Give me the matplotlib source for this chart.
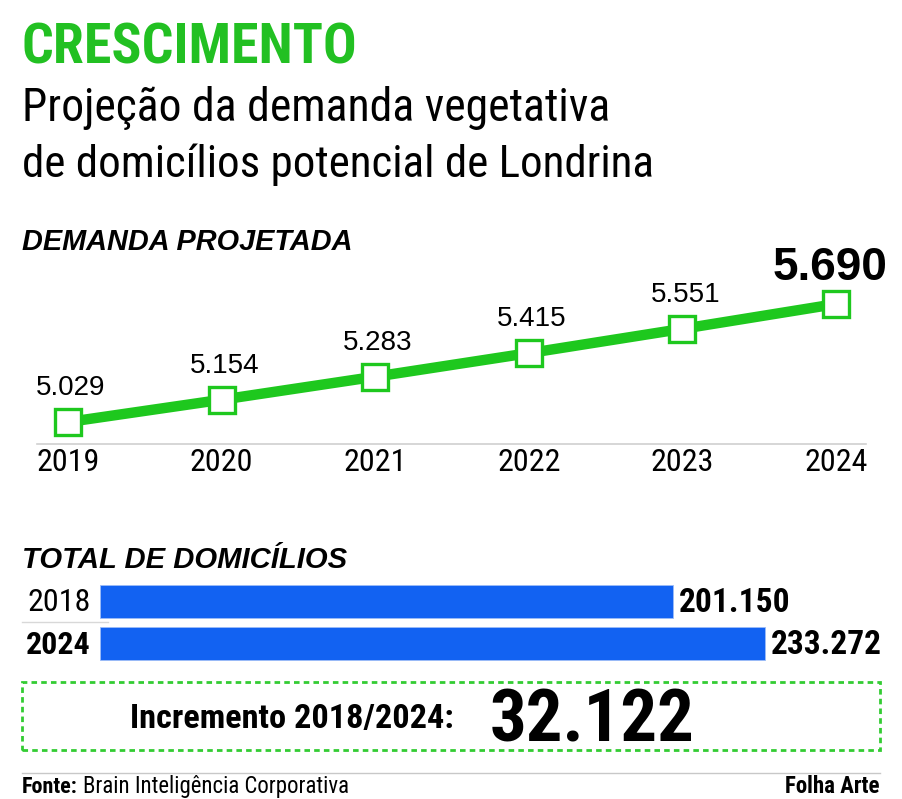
import matplotlib
matplotlib.use("Agg")
import matplotlib.pyplot as plt
from matplotlib import font_manager
from matplotlib.font_manager import FontProperties
from matplotlib.patches import Rectangle
from matplotlib.lines import Line2D

# dados
anos = ["2019", "2020", "2021", "2022", "2023", "2024"]
demanda = [5.029, 5.154, 5.283, 5.415, 5.551, 5.690]
rotulos_demanda = ["5.029", "5.154", "5.283", "5.415", "5.551", "5.690"]

anos_total = ["2018", "2024"]
domicilios = [201150, 233272]
rotulos_dom = ["201.150", "233.272"]
incremento = "32.122"

VERDE = "#1ec81e"
VERDE_TIT = "#22c022"
VERDE_CAIXA = "#33cc33"
AZUL = "#1262f2"
W, H = 903, 799


def peso_num(w):
    if isinstance(w, str):
        return {"bold": 700, "normal": 400, "regular": 400, "book": 400,
                "medium": 500, "semibold": 600, "light": 300}.get(w.lower(), 400)
    return w


def achar_condensada(negrito):
    # procura uma fonte estreita instalada (Narrow / Condensed)
    ordem = ["Liberation Sans Narrow", "Roboto Condensed", "Open Sans Condensed",
             "Noto Sans", "DejaVu Sans", "Open Sans", "Roboto"]
    cands = []
    for f in font_manager.fontManager.ttflist:
        nome = (f.fname + " " + f.name).lower()
        if "narrow" not in nome and "condensed" not in nome:
            continue
        if "semicondensed" in nome.replace(" ", "") or "extracondensed" in nome.replace(" ", ""):
            continue
        if f.style != "normal" or "italic" in nome or "oblique" in nome:
            continue
        w = peso_num(f.weight)
        if negrito and w < 600:
            continue
        if not negrito and (w < 350 or w > 450):
            continue
        rank = len(ordem)
        for i, o in enumerate(ordem):
            if o.lower() in nome:
                rank = i
                break
        cands.append((rank, abs(w - (700 if negrito else 400)), f.fname))
    if not cands:
        return None
    cands.sort()
    return cands[0][2]


COND_R = achar_condensada(False)
COND_B = achar_condensada(True)
SANS = "Liberation Sans"


def fonte(size, cond=False, bold=False, italic=False):
    if cond:
        arq = COND_B if bold else COND_R
        if arq:
            return FontProperties(fname=arq, size=size)
    return FontProperties(family=SANS, size=size, weight="bold" if bold else "normal",
                          style="italic" if italic else "normal")


def fx(x):
    return x / W


def fy(y):
    return 1 - y / H


fig = plt.figure(figsize=(W / 100, H / 100), dpi=100)
fig.patch.set_facecolor("white")
render = fig.canvas.get_renderer()


def texto(x, y, s, size, cond=False, bold=False, italic=False, color="black",
          ha="left", va="baseline", largura=None):
    t = fig.text(fx(x), fy(y), s, fontproperties=fonte(size, cond, bold, italic),
                 color=color, ha=ha, va=va)
    if largura:
        w = t.get_window_extent(renderer=render).width
        t.set_fontsize(size * largura / w)
    return t


# cabecalho
texto(22, 64, "CRESCIMENTO", 40, cond=True, bold=True, color=VERDE_TIT, largura=335)
texto(22, 121, "Projeção da demanda vegetativa", 30, cond=True, largura=588)
texto(22, 177, "de domicílios potencial de Londrina", 30, cond=True, largura=632)
texto(22, 250, "DEMANDA PROJETADA", 20, bold=True, italic=True, largura=330)

# grafico de linha
ax = fig.add_axes([fx(37), fy(444), fx(866) - fx(37), fy(250) - fy(444)])
x = list(range(len(anos)))
ax.plot(x, demanda, color=VERDE, lw=7.5, solid_capstyle="butt", zorder=2)
ax.plot(x, demanda, ls="none", marker="s", ms=18.5, mfc="white", mec=VERDE,
        mew=2.4, zorder=3)
ax.set_xlim(-0.202, 5.195)
ax.set_ylim(4.906, 5.9925)
for s in ["top", "right", "left"]:
    ax.spines[s].set_visible(False)
ax.spines["bottom"].set_color("#d0d0d0")
ax.spines["bottom"].set_linewidth(1.2)
ax.set_yticks([])
ax.set_xticks(x)
ax.set_xticklabels(anos)
for lab in ax.get_xticklabels():
    lab.set_fontproperties(fonte(23, cond=True))
ax.tick_params(axis="x", length=0, pad=3)
ax.patch.set_alpha(0)
for i, (v, r) in enumerate(zip(demanda, rotulos_demanda)):
    if i == len(demanda) - 1:
        ax.annotate(r, (i, v), xytext=(-4, 10), textcoords="offset points",
                    ha="center", va="bottom", fontproperties=fonte(33, bold=True))
    else:
        ax.annotate(r, (i, v), xytext=(2, 15), textcoords="offset points",
                    ha="center", va="bottom", fontproperties=fonte(20))

# total de domicilios
texto(22, 568, "TOTAL DE DOMICÍLIOS", 20, bold=True, italic=True, largura=325)
escala = 0.00285  # px por domicilio
axb = fig.add_axes([fx(100), fy(664), fx(880) - fx(100), fy(581) - fy(664)])
axb.barh([0, 1], domicilios, height=33 / 42, color=AZUL, edgecolor="#9dbdf7", lw=0.6)
axb.set_xlim(0, 780 / escala)
axb.set_ylim(1.5, -0.48)
axb.axis("off")
for i, (a, v, r) in enumerate(zip(anos_total, domicilios, rotulos_dom)):
    axb.text(-9 / escala, i + 0.04, a, ha="right", va="center",
             fontproperties=fonte(23, cond=True, bold=(i == 1)))
    axb.text(v + 6 / escala, i + 0.04, r, ha="left", va="center",
             fontproperties=fonte(24, cond=True, bold=True))

fig.add_artist(Line2D([fx(22), fx(108)], [fy(622), fy(622)], color="#d8d8d8", lw=1))

# caixa do incremento
fig.add_artist(Rectangle((fx(22), fy(750)), fx(880) - fx(22), fy(682) - fy(750),
                         fill=False, ec=VERDE_CAIXA, lw=2, ls=(0, (2, 1.5))))
texto(130, 728, "Incremento 2018/2024:", 24, cond=True, bold=True, largura=325)
texto(490, 741, incremento, 55, cond=True, bold=True, largura=205)

# rodape
fig.add_artist(Line2D([fx(22), fx(880)], [fy(773), fy(773)], color="#c8c8c8", lw=1))
texto(22, 793, "Fonte:", 14, cond=True, bold=True, largura=56)
texto(83, 793, "Brain Inteligência Corporativa", 14, cond=True, largura=267)
texto(880, 793, "Folha Arte", 14, cond=True, bold=True, ha="right", largura=95)

fig.savefig("out.png", dpi=100, facecolor="white")
